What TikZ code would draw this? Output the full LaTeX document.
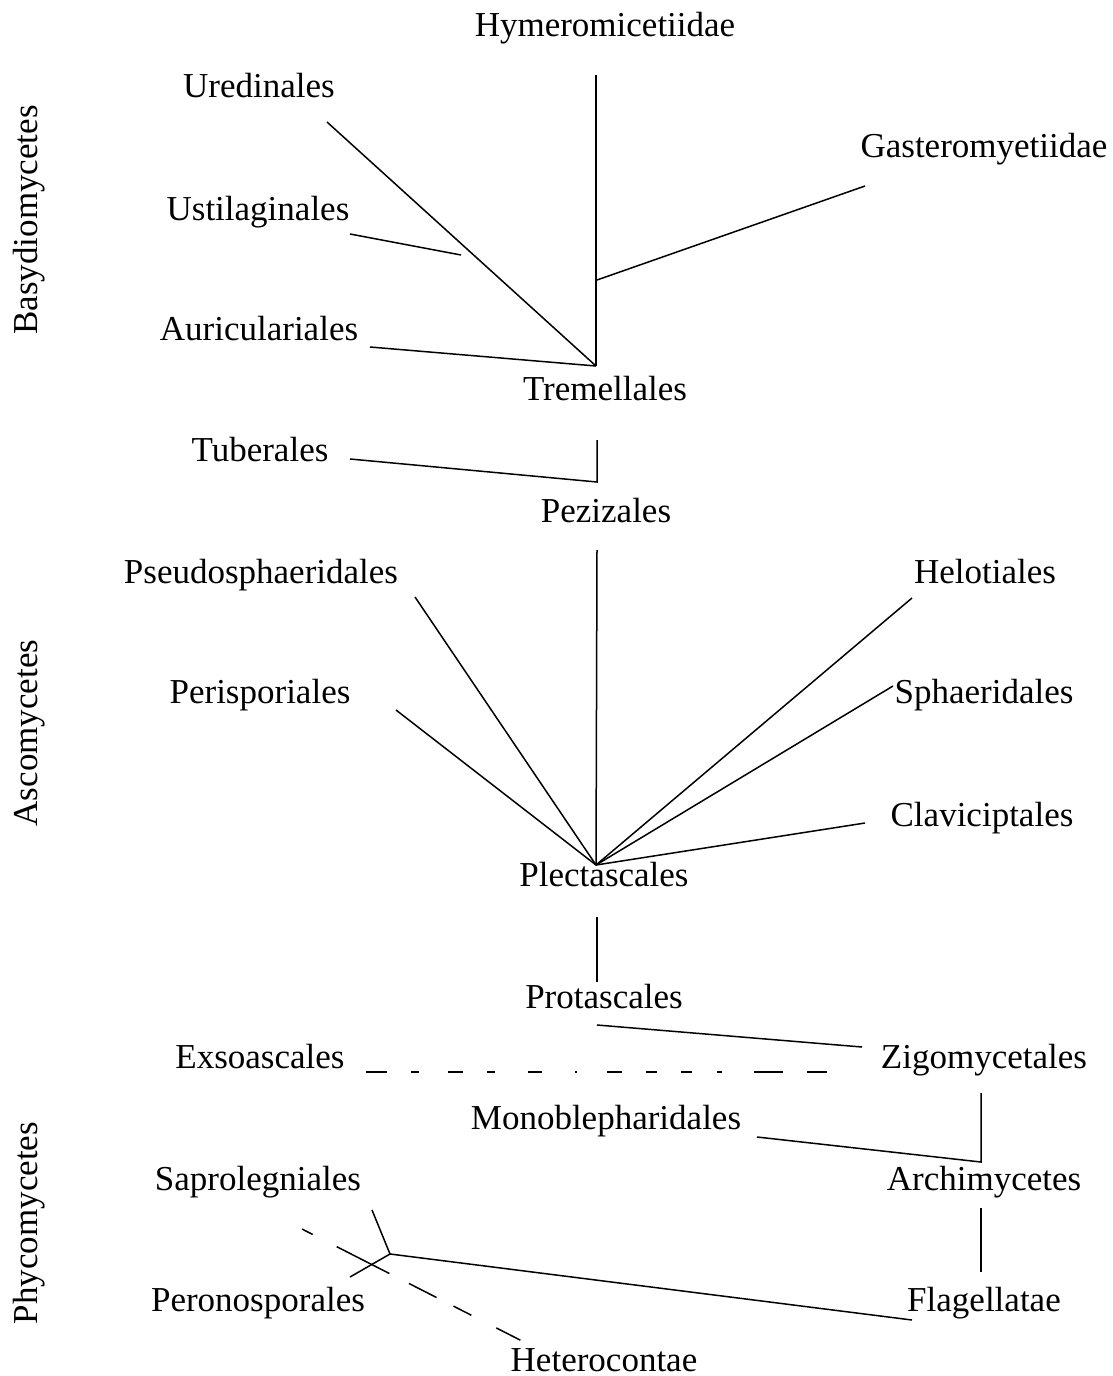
\documentclass[tikz,border=0pt]{standalone}
\usepackage{fontspec}
\setmainfont{Liberation Serif}
\begin{document}
\begin{tikzpicture}[x=1pt,y=-1pt,
  lbl/.style={inner sep=0pt, anchor=base, font=\fontsize{35}{40}\selectfont},
  vlbl/.style={inner sep=0pt, rotate=90, anchor=center, font=\fontsize{35}{40}\selectfont},
  conn/.style={line width=1.5pt, line cap=butt, line join=miter}]
\useasboundingbox[fill=white] (0,0) rectangle (1112,1376);
% labels
\node[lbl] (hym) at (605,36) {Hymeromicetiidae};
\node[lbl] (ure) at (259,97) {Uredinales};
\node[lbl] (gas) at (984,157) {Gasteromyetiidae};
\node[lbl] (ust) at (258,220) {Ustilaginales};
\node[lbl] (aur) at (259,340) {Auriculariales};
\node[lbl] (tre) at (605,400) {Tremellales};
\node[lbl] (tub) at (260,461) {Tuberales};
\node[lbl] (pez) at (606,522) {Pezizales};
\node[lbl] (pse) at (261,583) {Pseudosphaeridales};
\node[lbl] (hel) at (985,583) {Helotiales};
\node[lbl] (per) at (260,703) {Perisporiales};
\node[lbl] (sph) at (984,703) {Sphaeridales};
\node[lbl] (cla) at (982,826) {Claviciptales};
\node[lbl] (ple) at (604,886) {Plectascales};
\node[lbl] (pro) at (604,1008) {Protascales};
\node[lbl] (exs) at (260,1068) {Exsoascales};
\node[lbl] (zig) at (984,1068) {Zigomycetales};
\node[lbl] (mon) at (606,1129) {Monoblepharidales};
\node[lbl] (sap) at (258,1190) {Saprolegniales};
\node[lbl] (arc) at (984,1190) {Archimycetes};
\node[lbl] (pero) at (258,1311) {Peronosporales};
\node[lbl] (fla) at (984,1311) {Flagellatae};
\node[lbl] (het) at (604,1371) {Heterocontae};
\node[vlbl] (bas) at (29,220) {Basydiomycetes};
\node[vlbl] (asc) at (30,733) {Ascomycetes};
\node[vlbl] (phy) at (29,1223) {Phycomycetes};
% coordinates
\coordinate (hymE) at (596,75);
\coordinate (J1) at (596,366);
\coordinate (gasS) at (597,280);
\coordinate (gasE) at (865,186);
\coordinate (ureE) at (327,122);
\coordinate (ustE) at (350,234);
\coordinate (ustJ) at (461,255);
\coordinate (aurE) at (370,347);
\coordinate (treE) at (597,440);
\coordinate (pezJ) at (597,482);
\coordinate (tubE) at (350,459);
\coordinate (pezE) at (597,550);
\coordinate (J2) at (596,865);
\coordinate (pseE) at (415,597);
\coordinate (perE) at (396,710);
\coordinate (helE) at (912,598);
\coordinate (sphE) at (893,686);
\coordinate (claE) at (865,823);
\coordinate (pleE) at (597,917);
\coordinate (proN) at (597,982);
\coordinate (proS) at (597,1025);
\coordinate (zigW) at (862,1047);
\coordinate (exsE) at (366,1072);
\coordinate (zigD) at (827,1072);
\coordinate (zigS) at (981,1093);
\coordinate (J3) at (981,1162);
\coordinate (monE) at (757,1137);
\coordinate (arcS) at (981,1208);
\coordinate (flaN) at (981,1272);
\coordinate (flaW) at (912,1320);
\coordinate (J4) at (390,1254);
\coordinate (sapE) at (372,1210);
\coordinate (peroE) at (350,1277);
\coordinate (dS) at (302,1229);
\coordinate (hetE) at (522,1341);
% connectors
\draw[conn] (hymE) -- (J1);
\draw[conn] (gasS) -- (gasE);
\draw[conn] (ureE) -- (J1);
\draw[conn] (ustE) -- (ustJ);
\draw[conn] (aurE) -- (J1);
\draw[conn] (treE) -- (pezJ) -- (tubE);
\draw[conn] (pezE) -- (J2);
\draw[conn] (pseE) -- (J2);
\draw[conn] (perE) -- (J2);
\draw[conn] (helE) -- (J2);
\draw[conn] (sphE) -- (J2);
\draw[conn] (claE) -- (J2);
\draw[conn] (pleE) -- (proN);
\draw[conn] (proS) -- (zigW);
\draw[conn, dash pattern=on 21pt off 24pt on 8pt off 29pt on 15pt off 24pt on 8pt off 33pt on 14pt off 33pt on 2pt off 30pt on 15pt off 24pt on 11pt off 24pt on 11pt off 25pt on 5pt off 32pt on 29pt off 24pt on 20pt off 40pt] (exsE) -- (zigD);
\draw[conn] (zigS) -- (J3) -- (monE);
\draw[conn] (arcS) -- (flaN);
\draw[conn] (flaW) -- (J4) -- (sapE);
\draw[conn] (J4) -- (peroE);
\draw[conn, dash pattern=on 12pt off 27pt on 59pt off 22pt on 31pt off 19pt on 20pt off 28pt on 27pt off 40pt] (dS) -- (hetE);
\end{tikzpicture}
\end{document}
